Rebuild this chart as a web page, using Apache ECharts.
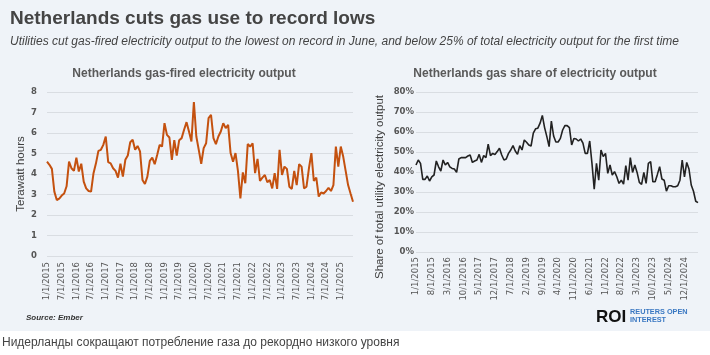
<!DOCTYPE html>
<html>
<head>
<meta charset="utf-8">
<script src="https://cdn.jsdelivr.net/npm/echarts@6/dist/echarts.min.js"></script>
<style>
html,body{margin:0;padding:0;background:#ffffff;}
#chart{width:710px;height:355px;}
</style>
</head>
<body>
<div id="chart"></div>
<script>
// ---- Data ----
var startYear = 2015;
var monthCount = 126; // Jan 2015 .. Jun 2025

var gasTWh = [
  4.6, 4.45, 4.25, 3.14, 2.73, 2.8, 2.95, 3.05, 3.4, 4.6, 4.28, 4.15,
  4.8, 4.12, 4.5, 3.63, 3.3, 3.17, 3.14, 4.04, 4.52, 5.13, 5.18, 5.42,
  5.83, 4.58, 4.52, 4.28, 4.15, 3.82, 4.5, 3.87, 4.69, 4.9, 5.55, 5.67,
  5.18, 5.37, 5.1, 3.71, 3.51, 3.87, 4.64, 4.8, 4.48, 4.93, 5.42, 5.34,
  6.48, 5.91, 5.78, 4.69, 5.65, 4.9, 5.65, 5.75, 6.16, 6.53, 6.07, 5.59,
  7.51, 5.83, 5.18, 4.5, 5.26, 5.5, 6.73, 6.89, 5.75, 5.46, 5.83, 6.07,
  6.48, 6.24, 6.4, 5.02, 4.6, 5.02, 4.15, 2.81, 4.08, 3.55, 5.46, 5.34,
  5.5, 4.04, 4.74, 3.66, 3.82, 3.95, 3.6, 3.71, 3.3, 4.04, 3.27, 5.18,
  3.95, 4.36, 4.25, 3.38, 3.27, 4.15, 3.46, 4.48, 4.36, 3.3, 3.38, 4.28,
  5.02, 3.66, 3.82, 2.9, 3.1, 3.05, 3.17, 3.33, 3.17, 3.46, 5.34, 4.36,
  5.34, 4.85, 4.15, 3.46, 3.05, 2.65
];

var gasSharePct = [
  43.5, 46, 44.3, 36.3, 36.3, 38, 35.5, 37.6, 38.5, 45.5, 42.6, 40.5,
  46, 43.5, 44.8, 42.6, 41.8, 41.5, 39.8, 46.5, 47.2, 47.2, 47.2, 48,
  48.5, 44.8, 45.5, 46, 48.8, 44.8, 48.2, 47.2, 53.9, 48.2, 49.3, 48.8,
  50.2, 51.9, 48.5, 46, 46.5, 49.3, 51, 53.2, 50.5, 48.8, 53.2, 51,
  56, 54.9, 53.5, 53, 59.4, 61.6, 61.9, 64.4, 68.3, 62.2, 57.7, 52.7,
  65.5, 58, 55, 55, 56.8, 61, 63.2, 63.2, 62.2, 53.5, 56.8, 56.5,
  55.5, 56.5, 54.4, 49.3, 49.3, 55.5, 44.3, 31.4, 44.3, 35.9, 51, 47.7,
  49.3, 39.3, 43.5, 38.5, 40.2, 37.6, 34.3, 35.9, 33.9, 43.2, 35.9, 47.2,
  39.8, 43.5, 39.8, 34.8, 33.8, 39.8, 34.3, 44.3, 45.2, 35.1, 35.1, 38.8,
  42.7, 36.5, 35.9, 30.4, 33.1, 33.1, 32.6, 32.6, 33.1, 35.9, 46, 37.6,
  44.8, 41.5, 33.5, 30.4, 25.4, 24.7
];

var months = [];
for (var i = 0; i < monthCount; i++) {
  var y = startYear + Math.floor(i / 12);
  var m = (i % 12) + 1;
  months.push(m + '/1/' + y);
}

var leftTicks = [0, 1, 2, 3, 4, 5, 6, 7, 8];
var rightTicks = [0, 10, 20, 30, 40, 50, 60, 70, 80];

var mainTitle = 'Netherlands cuts gas use to record lows';
var subTitle = 'Utilities cut gas-fired electricity output to the lowest on record in June, and below 25% of total electricity output for the first time';
var leftTitle = 'Netherlands gas-fired electricity output';
var rightTitle = 'Netherlands gas share of electricity output';
var leftYName = 'Terawatt hours';
var rightYName = 'Share of total utility electricity output';
var sourceText = 'Source: Ember';
var caption = 'Нидерланды сокращают потребление газа до рекордно низкого уровня';

// ---- Chart ----
var FF = '"Liberation Sans", Arial, sans-serif';
var chart = echarts.init(document.getElementById('chart'), null, {renderer: 'canvas'});

var xLabelStyle = {color: '#555', fontSize: 8.5, fontFamily: '"DejaVu Sans", sans-serif', rotate: 90, margin: 6};
var yLabelStyle = {color: '#555', fontSize: 8.5, fontFamily: '"DejaVu Sans", sans-serif', fontWeight: 'bold'};
var gridLine = {show: true, lineStyle: {color: '#d9dde2', width: 1}};

var option = {
  backgroundColor: 'transparent',
  animation: false,
  graphic: [
    {type: 'rect', z: -100, silent: true, shape: {x: 0, y: 0, width: 710, height: 331}, style: {fill: '#eff3f8'}},
    {type: 'text', x: 10, y: 19, style: {text: mainTitle, font: 'bold 19px ' + FF, fill: '#444', textVerticalAlign: 'middle'}},
    {type: 'text', x: 10, y: 42, style: {text: subTitle, font: 'italic 12px ' + FF, fill: '#444', textVerticalAlign: 'middle'}},
    {type: 'text', x: 184, y: 74, style: {text: leftTitle, font: 'bold 12px ' + FF, fill: '#595959', textAlign: 'center', textVerticalAlign: 'middle'}},
    {type: 'text', x: 535, y: 74, style: {text: rightTitle, font: 'bold 12px ' + FF, fill: '#595959', textAlign: 'center', textVerticalAlign: 'middle'}},
    {type: 'text', x: 26, y: 318, style: {text: sourceText, font: 'italic bold 8px ' + FF, fill: '#333', textVerticalAlign: 'middle'}},
    {type: 'text', x: 596, y: 317, style: {text: 'ROI', font: 'bold 17px ' + FF, fill: '#111', textVerticalAlign: 'middle'}},
    {type: 'text', x: 630, y: 312, style: {text: 'REUTERS OPEN', font: 'bold 7.3px ' + FF, fill: '#3a78c2', textVerticalAlign: 'middle'}},
    {type: 'text', x: 630, y: 320, style: {text: 'INTEREST', font: 'bold 7.3px ' + FF, fill: '#3a78c2', textVerticalAlign: 'middle'}},
    {type: 'text', x: 2, y: 343, style: {text: caption, font: '12px ' + FF, fill: '#444', textVerticalAlign: 'middle'}}
  ],
  grid: [
    {left: 47, right: 357, top: 92, bottom: 99},
    {left: 416, right: 12, top: 92, bottom: 103}
  ],
  xAxis: [
    {type: 'category', gridIndex: 0, data: months, boundaryGap: false,
     axisLine: {show: false}, axisTick: {show: false},
     axisLabel: Object.assign({interval: 5}, xLabelStyle), splitLine: {show: false}},
    {type: 'category', gridIndex: 1, data: months, boundaryGap: false,
     axisLine: {show: false}, axisTick: {show: false},
     axisLabel: Object.assign({interval: 6}, xLabelStyle, {margin: 5}), splitLine: {show: false}}
  ],
  yAxis: [
    {type: 'value', gridIndex: 0, min: leftTicks[0], max: leftTicks[leftTicks.length - 1], interval: 1,
     axisLine: {show: false}, axisTick: {show: false}, splitLine: gridLine,
     axisLabel: Object.assign({margin: 10}, yLabelStyle),
     name: leftYName, nameLocation: 'middle', nameGap: 16,
     nameTextStyle: {color: '#404040', fontSize: 11.5, fontFamily: FF}},
    {type: 'value', gridIndex: 1, min: rightTicks[0], max: rightTicks[rightTicks.length - 1], interval: 10,
     axisLine: {show: false}, axisTick: {show: false}, splitLine: gridLine,
     axisLabel: Object.assign({margin: 2, formatter: '{value}%'}, yLabelStyle),
     name: rightYName, nameLocation: 'middle', nameGap: 30,
     nameTextStyle: {color: '#404040', fontSize: 11.5, fontFamily: FF, padding: [0, 30, 0, 0]}}
  ],
  series: [
    {type: 'line', xAxisIndex: 0, yAxisIndex: 0, data: gasTWh, showSymbol: false,
     lineStyle: {color: '#c4510f', width: 2}, itemStyle: {color: '#c4510f'}},
    {type: 'line', xAxisIndex: 1, yAxisIndex: 1, data: gasSharePct, showSymbol: false,
     lineStyle: {color: '#222222', width: 1.6}, itemStyle: {color: '#222222'}}
  ]
};
chart.setOption(option);
</script>
</body>
</html>
